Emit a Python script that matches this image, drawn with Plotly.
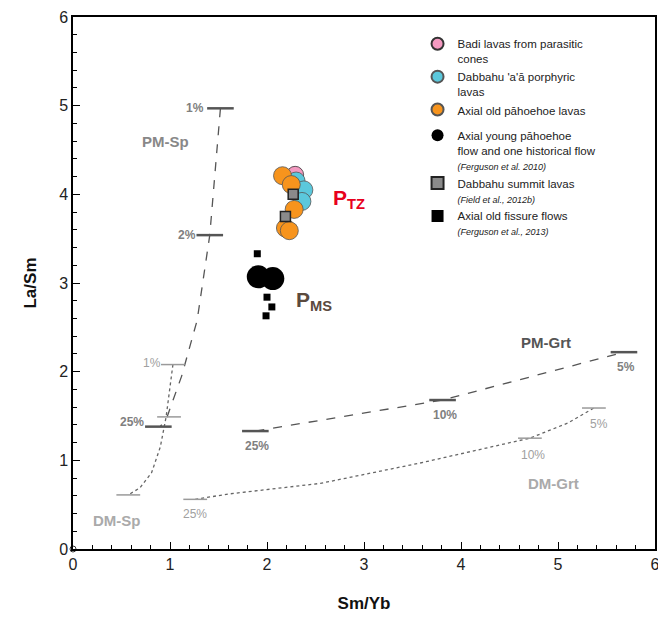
import plotly.graph_objects as go

# sample data (Sm/Yb, La/Sm)
badi_x = [2.29]
badi_y = [4.22]
aa_x = [2.30, 2.38, 2.36]
aa_y = [4.15, 4.05, 3.92]
old_pah_x = [2.16, 2.25, 2.28, 2.19, 2.23]
old_pah_y = [4.21, 4.11, 3.83, 3.62, 3.59]
young_pah_x = [1.91, 2.06]
young_pah_y = [3.07, 3.05]
summit_x = [2.27, 2.19]
summit_y = [4.00, 3.75]
fissure_x = [1.90, 2.00, 2.05, 1.99]
fissure_y = [3.33, 2.84, 2.73, 2.63]

# melting model curves
pm_sp_x = [1.52, 1.41, 1.28, 1.12, 0.97, 0.90]
pm_sp_y = [4.97, 3.54, 2.58, 1.95, 1.49, 1.38]
pm_sp_tick_x = [1.52, 1.41, 0.88]
pm_sp_tick_y = [4.97, 3.54, 1.38]
pm_sp_tick_lbl = ["1%", "2%", "25%"]

dm_sp_x = [1.03, 0.99, 0.96, 0.90, 0.81, 0.69, 0.57]
dm_sp_y = [2.08, 1.75, 1.49, 1.15, 0.86, 0.69, 0.61]
dm_sp_tick_x = [1.03, 0.99, 0.57]
dm_sp_tick_y = [2.08, 1.49, 0.61]
dm_sp_tick_lbl = ["1%", "", ""]

pm_grt_x = [1.88, 3.81, 5.68]
pm_grt_y = [1.33, 1.68, 2.22]
pm_grt_tick_lbl = ["25%", "10%", "5%"]

dm_grt_x = [1.26, 1.60, 2.55, 3.58, 4.71, 5.10, 5.37]
dm_grt_y = [0.56, 0.62, 0.74, 0.97, 1.25, 1.42, 1.59]
dm_grt_tick_x = [1.26, 4.71, 5.37]
dm_grt_tick_y = [0.56, 1.25, 1.59]
dm_grt_tick_lbl = ["25%", "10%", "5%"]

PM = "#555555"
DM = "#9a9a9a"
FONT = "Liberation Sans, Arial"

fig = go.Figure()

# model lines
fig.add_trace(go.Scatter(x=pm_sp_x, y=pm_sp_y, mode="lines", line=dict(color=PM, width=1.3, dash="dash"), showlegend=False, hoverinfo="skip"))
fig.add_trace(go.Scatter(x=dm_sp_x, y=dm_sp_y, mode="lines", line=dict(color="#666", width=1.3, dash="dot"), showlegend=False, hoverinfo="skip"))
fig.add_trace(go.Scatter(x=pm_grt_x, y=pm_grt_y, mode="lines", line=dict(color=PM, width=1.3, dash="dash"), showlegend=False, hoverinfo="skip"))
fig.add_trace(go.Scatter(x=dm_grt_x, y=dm_grt_y, mode="lines", line=dict(color="#666", width=1.3, dash="dot"), showlegend=False, hoverinfo="skip"))

# melt fraction ticks
fig.add_trace(go.Scatter(x=pm_sp_tick_x + pm_grt_x, y=pm_sp_tick_y + pm_grt_y, mode="markers",
                         marker=dict(symbol="line-ew", size=19, line=dict(color=PM, width=2.5)),
                         showlegend=False, hoverinfo="skip"))
fig.add_trace(go.Scatter(x=dm_sp_tick_x + dm_grt_tick_x, y=dm_sp_tick_y + dm_grt_tick_y, mode="markers",
                         marker=dict(symbol="line-ew", size=17, line=dict(color=DM, width=1.5)),
                         showlegend=False, hoverinfo="skip"))

# origin marker
fig.add_trace(go.Scatter(x=[0], y=[0], mode="markers", marker=dict(symbol="circle-open", size=6, color="#333", line=dict(width=1)),
                         showlegend=False, hoverinfo="skip", cliponaxis=False))

# samples (two legend blocks so the gap between them can follow the original)
cite = "<br><i><span style='font-size:9px'>%s</span></i>"
fig.add_trace(go.Scatter(x=badi_x, y=badi_y, mode="markers", name="Badi lavas from parasitic<br>cones", legend="legend",
                         marker=dict(symbol="circle", size=17, color="#f49ac1", line=dict(color="#333", width=0.8))))
fig.add_trace(go.Scatter(x=aa_x, y=aa_y, mode="markers", name="Dabbahu 'a'ā porphyric<br>lavas", legend="legend",
                         marker=dict(symbol="circle", size=18, color="#5bc8dc", line=dict(color="#555", width=0.8))))
fig.add_trace(go.Scatter(x=old_pah_x, y=old_pah_y, mode="markers", name="Axial old pāhoehoe lavas", legend="legend",
                         marker=dict(symbol="circle", size=18, color="#f7941d", line=dict(color="#555", width=0.8))))
fig.add_trace(go.Scatter(x=young_pah_x, y=young_pah_y, mode="markers", legend="legend2",
                         name="Axial young pāhoehoe<br>flow and one historical flow" + cite % "(Ferguson et al. 2010)",
                         marker=dict(symbol="circle", size=23, color="#000")))
fig.add_trace(go.Scatter(x=summit_x, y=summit_y, mode="markers", legend="legend2",
                         name="Dabbahu summit lavas" + cite % "(Field et al., 2012b)",
                         marker=dict(symbol="square", size=10, color="#8a8a8a", line=dict(color="#222", width=1.5))))
fig.add_trace(go.Scatter(x=fissure_x, y=fissure_y, mode="markers", legend="legend2",
                         name="Axial old fissure flows" + cite % "(Ferguson et al., 2013)",
                         marker=dict(symbol="square", size=7, color="#000")))

# tick labels on model curves
bold_pm = dict(family=FONT, size=12, color="#808080")
thin_dm = dict(family=FONT, size=12, color="#a0a0a0")
fig.add_annotation(x=pm_sp_tick_x[0], y=pm_sp_tick_y[0], text="<b>1%</b>", xanchor="right", xshift=-14, showarrow=False, font=bold_pm)
fig.add_annotation(x=pm_sp_tick_x[1], y=pm_sp_tick_y[1], text="<b>2%</b>", xanchor="right", xshift=-12, showarrow=False, font=bold_pm)
fig.add_annotation(x=pm_sp_tick_x[2], y=pm_sp_tick_y[2], text="<b>25%</b>", xanchor="right", xshift=-12, yshift=5, showarrow=False, font=bold_pm)
fig.add_annotation(x=dm_sp_tick_x[0], y=dm_sp_tick_y[0], text="1%", xanchor="right", xshift=-10, yshift=2, showarrow=False, font=thin_dm)
fig.add_annotation(x=dm_grt_tick_x[0], y=dm_grt_tick_y[0], text="25%", yshift=-15, showarrow=False, font=thin_dm)
fig.add_annotation(x=dm_grt_tick_x[1], y=dm_grt_tick_y[1], text="10%", yshift=-17, xshift=3, showarrow=False, font=thin_dm)
fig.add_annotation(x=dm_grt_tick_x[2], y=dm_grt_tick_y[2], text="5%", yshift=-16, xshift=5, showarrow=False, font=thin_dm)
for xx, yy, t in zip(pm_grt_x, pm_grt_y, pm_grt_tick_lbl):
    fig.add_annotation(x=xx, y=yy, text="<b>" + t + "</b>", yshift=-15, xshift=2, showarrow=False, font=bold_pm)

# model names
fig.add_annotation(x=0.95, y=4.6, text="<b>PM-Sp</b>", showarrow=False, font=dict(family=FONT, size=15, color="#888"))
fig.add_annotation(x=0.45, y=0.32, text="<b>DM-Sp</b>", showarrow=False, font=dict(family=FONT, size=15, color="#aaa"))
fig.add_annotation(x=4.88, y=2.33, text="<b>PM-Grt</b>", showarrow=False, font=dict(family=FONT, size=15, color="#555"))
fig.add_annotation(x=4.95, y=0.74, text="<b>DM-Grt</b>", showarrow=False, font=dict(family=FONT, size=15, color="#aaa"))

# group labels
fig.add_annotation(x=2.66, y=3.95, text="<b>P<sub>TZ</sub></b>", xanchor="left", showarrow=False,
                   font=dict(family=FONT, size=21, color="#e8001c"))
fig.add_annotation(x=2.28, y=2.8, text="<b>P<sub>MS</sub></b>", xanchor="left", showarrow=False,
                   font=dict(family=FONT, size=21, color="#5b4a3e"))

axis_style = dict(range=[0, 6], dtick=1, showline=True, linecolor="#000", linewidth=1.5, mirror=True,
                  ticks="inside", ticklen=7, tickwidth=1.2, tickcolor="#000",
                  minor=dict(ticks="inside", ticklen=4, dtick=0.2, tickcolor="#000"),
                  showgrid=False, zeroline=False, automargin=False,
                  tickfont=dict(family=FONT, size=16, color="#222"))
fig.update_xaxes(**axis_style, title=dict(text="<b>Sm/Yb</b>", font=dict(family=FONT, size=17, color="#111"), standoff=25))
fig.update_yaxes(**axis_style, title=dict(text="<b>La/Sm</b>", font=dict(family=FONT, size=17, color="#111"), standoff=18))

leg_style = dict(xanchor="left", yanchor="top", bgcolor="rgba(0,0,0,0)",
                 font=dict(family=FONT, size=11.5, color="#222"),
                 valign="top", itemsizing="constant", tracegroupgap=4, itemwidth=30)

# page body adds an 8px offset, so the figure is 8px smaller than the window
fig.update_layout(
    width=658, height=609,
    margin=dict(l=65, r=11, t=9, b=68),
    plot_bgcolor="white", paper_bgcolor="white",
    legend=dict(x=0.592, y=0.976, **leg_style),
    legend2=dict(x=0.592, y=0.804, **leg_style),
)

fig.write_html("out.html")
